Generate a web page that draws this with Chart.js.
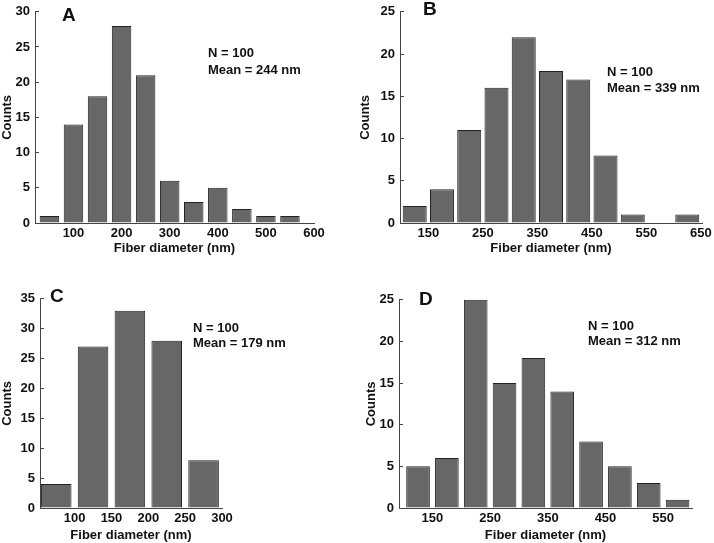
<!DOCTYPE html>
<html>
<head>
<meta charset="utf-8">
<script src="https://cdn.jsdelivr.net/npm/chart.js@4.4.1/dist/chart.umd.min.js"></script>
<style>
html, body { margin: 0; padding: 0; background: #fff; overflow: hidden; }
#page { position: relative; width: 714px; height: 543px; overflow: hidden; background: #fff; }
#page canvas { position: absolute; }
</style>
</head>
<body>
<div id="page">
  <canvas id="chartA"></canvas>
  <canvas id="chartB"></canvas>
  <canvas id="chartC"></canvas>
  <canvas id="chartD"></canvas>
</div>
<script>
// bin centres (nm), counts and axis tick labels for each panel
const binsA = [50, 100, 150, 200, 250, 300, 350, 400, 450, 500, 550];
const countsA = [1, 14, 18, 28, 21, 6, 3, 5, 2, 1, 1];
const ticksA = [100, 200, 300, 400, 500, 600];

const binsB = [125, 175, 225, 275, 325, 375, 425, 475, 525, 575, 625];
const countsB = [2, 4, 11, 16, 22, 18, 17, 8, 1, 0, 1];
const ticksB = [150, 250, 350, 450, 550, 650];

const binsC = [75, 125, 175, 225, 275];
const countsC = [4, 27, 33, 28, 8];
const ticksC = [100, 150, 200, 250, 300];

const binsD = [125, 175, 225, 275, 325, 375, 425, 475, 525, 575];
const countsD = [5, 6, 25, 15, 18, 14, 8, 5, 3, 1];
const ticksD = [150, 250, 350, 450, 550];

const notesA = ['N = 100', 'Mean = 244 nm'];
const notesB = ['N = 100', 'Mean = 339 nm'];
const notesC = ['N = 100', 'Mean = 179 nm'];
const notesD = ['N = 100', 'Mean = 312 nm'];

const FONT = '"Liberation Sans", Arial, Helvetica, sans-serif';
Chart.defaults.font.family = FONT;
Chart.defaults.color = '#111';

// letter + N/Mean text, positions given in page pixels
const panelText = {
  id: 'panelText',
  afterDraw(chart, args, opts) {
    const ctx = chart.ctx;
    ctx.save();
    ctx.fillStyle = '#111';
    ctx.textBaseline = 'middle';
    ctx.textAlign = 'left';
    ctx.font = 'bold 19px ' + FONT;
    ctx.fillText(opts.letter, opts.letterX - opts.offX, opts.letterY - opts.offY);
    ctx.font = 'bold 13px ' + FONT;
    opts.lines.forEach((t, i) => {
      ctx.fillText(t, opts.noteX - opts.offX, opts.noteY + i * opts.gap - opts.offY);
    });
    ctx.restore();
  }
};

function makePanel(id, p) {
  const canvas = document.getElementById(id);
  canvas.width = p.box.w;
  canvas.height = p.box.h;
  canvas.style.left = p.box.x + 'px';
  canvas.style.top = p.box.y + 'px';
  canvas.style.width = p.box.w + 'px';
  canvas.style.height = p.box.h + 'px';

  return new Chart(canvas.getContext('2d'), {
    type: 'bar',
    data: {
      datasets: [{
        data: p.bins.map((b, i) => ({ x: b, y: p.counts[i] })),
        backgroundColor: '#676767',
        borderColor: '#222',
        borderWidth: 1,
        barPercentage: p.barPct,
        categoryPercentage: 1
      }]
    },
    options: {
      responsive: false,
      animation: false,
      layout: { padding: { top: 10, right: p.padRight, left: 0, bottom: 0 } },
      plugins: {
        legend: { display: false },
        tooltip: { enabled: false },
        panelText: {
          letter: p.letter, letterX: p.letterX, letterY: p.letterY,
          lines: p.notes, noteX: p.noteX, noteY: p.noteY, gap: p.gap,
          offX: p.box.x, offY: p.box.y
        }
      },
      scales: {
        x: {
          type: 'linear',
          min: p.xMin,
          max: p.xMax,
          offset: false,
          grid: { display: false, drawTicks: false, offset: false },
          border: { display: true, color: '#444', width: 1 },
          ticks: { color: '#111', font: { size: 13, weight: 'bold' }, padding: 3, maxRotation: 0, autoSkip: false },
          afterBuildTicks: s => { s.ticks = p.ticks.map(v => ({ value: v })); },
          title: { display: true, text: 'Fiber diameter (nm)', color: '#111', font: { size: 13, weight: 'bold' }, padding: 0 },
          afterFit: s => { s.height = p.xHeight; }
        },
        y: {
          min: 0,
          max: p.yMax,
          // inward tick marks
          grid: { drawOnChartArea: false, drawTicks: true, tickLength: -4, color: '#444' },
          border: { display: true, color: '#444', width: 1 },
          ticks: { stepSize: 5, color: '#111', font: { size: 13, weight: 'bold' }, padding: 9 },
          title: { display: true, text: 'Counts', color: '#111', font: { size: 13, weight: 'bold' }, padding: 0 },
          afterFit: s => { s.width = p.yWidth; }
        }
      }
    },
    plugins: [panelText]
  });
}

makePanel('chartA', {
  bins: binsA, counts: countsA, ticks: ticksA, notes: notesA,
  xMin: 20, xMax: 600, yMax: 30, barPct: 0.81,
  box: { x: 0, y: -5, w: 330, h: 261 }, padRight: 16, yWidth: 35, xHeight: 33,
  letter: 'A', letterX: 62, letterY: 16, noteX: 208, noteY: 53, gap: 17
});

makePanel('chartB', {
  bins: binsB, counts: countsB, ticks: ticksB, notes: notesB,
  xMin: 98, xMax: 652, yMax: 25, barPct: 0.88,
  box: { x: 358, y: -5, w: 360, h: 261 }, padRight: 16, yWidth: 42, xHeight: 33,
  letter: 'B', letterX: 423, letterY: 10, noteX: 607, noteY: 72, gap: 16.5
});

makePanel('chartC', {
  bins: binsC, counts: countsC, ticks: ticksC, notes: notesC,
  xMin: 53, xMax: 300, yMax: 35, barPct: 0.83,
  box: { x: 0, y: 282, w: 320, h: 261 }, padRight: 98, yWidth: 40, xHeight: 35,
  letter: 'C', letterX: 50, letterY: 297, noteX: 193, noteY: 328, gap: 15.5
});

makePanel('chartD', {
  bins: binsD, counts: countsD, ticks: ticksD, notes: notesD,
  xMin: 92, xMax: 600, yMax: 25, barPct: 0.82,
  box: { x: 364, y: 283, w: 344, h: 260 }, padRight: 16, yWidth: 35, xHeight: 35,
  letter: 'D', letterX: 419, letterY: 300, noteX: 588, noteY: 326, gap: 15.7
});
</script>
</body>
</html>
